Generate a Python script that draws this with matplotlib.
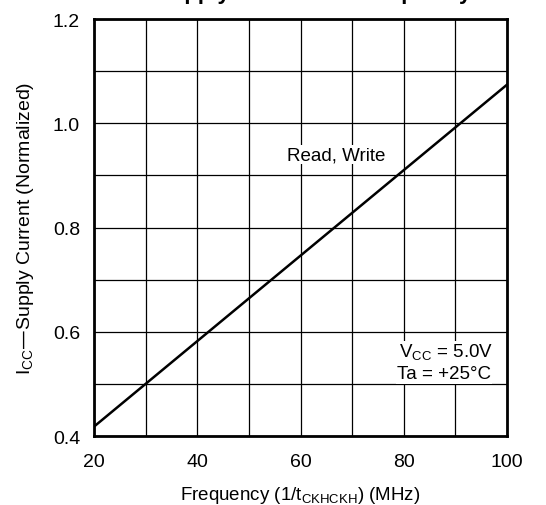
import matplotlib
matplotlib.use("Agg")
import matplotlib.pyplot as plt
import numpy as np

plt.rcParams['font.family'] = ['Liberation Sans', 'DejaVu Sans']

freq = [20, 100]
icc = [0.418, 1.074]
xticks = [20, 40, 60, 80, 100]
yticks = [0.4, 0.6, 0.8, 1.0, 1.2]

fig = plt.figure(figsize=(5.46, 5.06), dpi=100)
ax = fig.add_axes([94/546, 1 - 437/506, 413/546, 417/506])
ax.plot(freq, icc, color='black', lw=1.8, zorder=3)
ax.set_xlim(20, 100)
ax.set_ylim(0.4, 1.2)
ax.set_xticks(np.arange(20, 101, 10), minor=True)
ax.set_yticks(np.arange(0.4, 1.21, 0.1), minor=True)
ax.set_xticks(xticks)
ax.set_yticks(yticks)
ax.set_yticklabels([f"{v:.1f}" for v in yticks])
ax.grid(True, which='both', color='black', lw=0.9)
ax.tick_params(which='both', length=0, labelsize=14)
ax.tick_params(axis='y', pad=10)
ax.tick_params(axis='x', pad=12)
for s in ax.spines.values():
    s.set_linewidth(2)
    s.set_zorder(5)
ax.set_xlabel(r"Frequency (1/t$_{\mathregular{CKHCKH}}$) (MHz)", fontsize=13.5, labelpad=10)
ax.set_ylabel(r"I$_{\mathregular{CC}}$—Supply Current (Normalized)", fontsize=14, labelpad=12)
bbox = dict(facecolor='white', edgecolor='none', pad=1)
ax.text(67.0, 0.94, "Read, Write", fontsize=13.5, ha='center', va='center', bbox=bbox, zorder=4)
ax.text(88.2, 0.561, r"V$_{\mathregular{CC}}$ = 5.0V", fontsize=13.5, ha='center', va='center', bbox=bbox, zorder=4)
ax.text(87.8, 0.519, "Ta = +25°C", fontsize=13.5, ha='center', va='center', bbox=bbox, zorder=4)
fig.text(0.574, 1 + 1/506, "Supply Current vs. Frequency", fontsize=16, fontweight='bold', ha='center', va='baseline')
fig.savefig("out.png", dpi=100)
